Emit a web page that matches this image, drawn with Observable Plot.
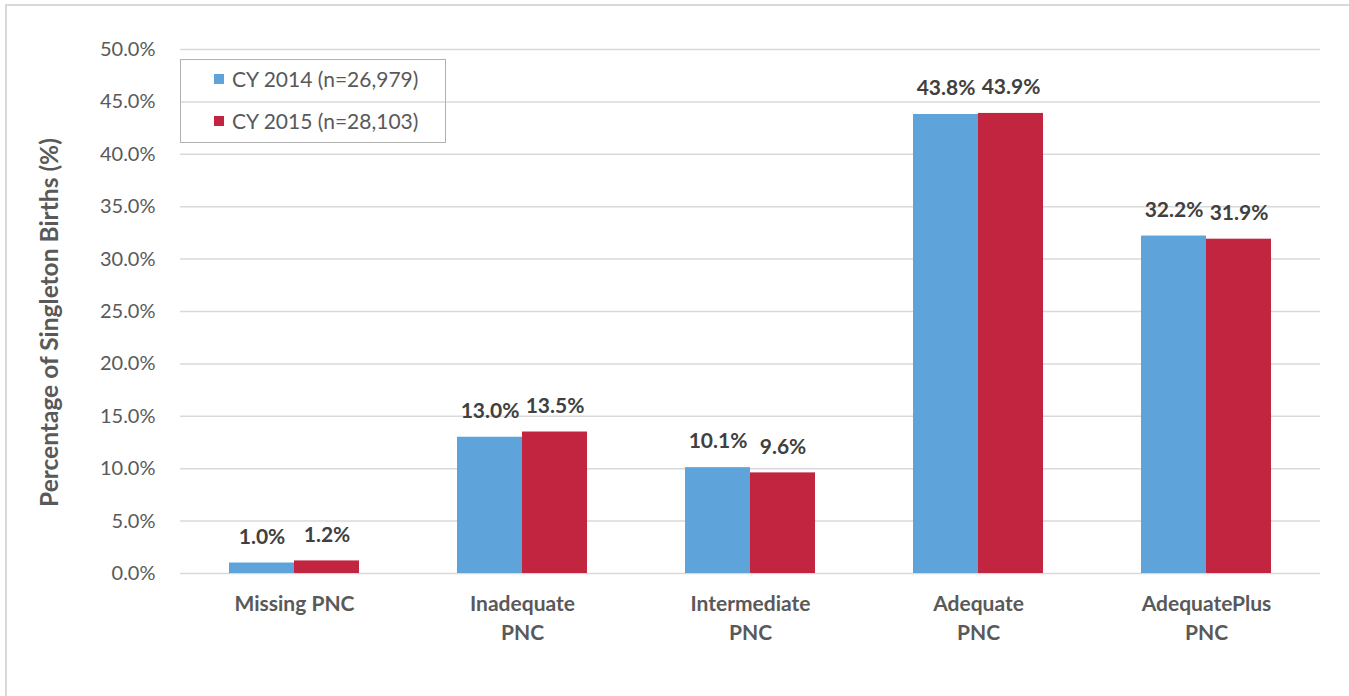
<!DOCTYPE html>
<html>
<head>
<meta charset="utf-8">
<script src="https://cdn.jsdelivr.net/npm/d3@7"></script>
<script src="https://cdn.jsdelivr.net/npm/@observablehq/plot@0.6"></script>
<style>
  html, body { margin: 0; padding: 0; background: #fff; }
  #wrap { position: relative; width: 1349px; height: 696px; overflow: hidden; font-family: Lato, "Open Sans", sans-serif; }
  #border { position: absolute; left: 5px; top: 4px; right: -4px; bottom: -4px; border-left: 2px solid #d9d9d9; border-top: 2px solid #d9d9d9; pointer-events: none; }
  #legend { position: absolute; left: 180px; top: 59px; width: 264px; height: 82px; border: 1.5px solid #b0b0b0; }
  .item { position: absolute; left: 33px; display: flex; align-items: center; font-size: 21px; color: #595959; }
  .sw { width: 10px; height: 10px; margin-right: 8px; }
</style>
</head>
<body>
<div id="wrap">
  <div id="chart"></div>
  <div id="border"></div>
  <div id="legend"></div>
</div>
<script>
const categories = ["Missing PNC", "Inadequate PNC", "Intermediate PNC", "Adequate PNC", "AdequatePlus PNC"];
const categoryLabels = ["Missing PNC", "Inadequate\nPNC", "Intermediate\nPNC", "Adequate\nPNC", "AdequatePlus\nPNC"];
const seriesNames = ["CY 2014 (n=26,979)", "CY 2015 (n=28,103)"];
const values2014 = [1.0, 13.0, 10.1, 43.8, 32.2];
const values2015 = [1.2, 13.5, 9.6, 43.9, 31.9];
const yTicks = [0, 5, 10, 15, 20, 25, 30, 35, 40, 45, 50];
const yTitle = "Percentage of Singleton Births (%)";
const colors = ["#5ea3d9", "#c1253f"];

const d2014 = categories.map((c, i) => ({category: c, value: values2014[i]}));
const d2015 = categories.map((c, i) => ({category: c, value: values2015[i]}));
const labelOf = new Map(categories.map((c, i) => [c, categoryLabels[i]]));
const fmt = v => v.toFixed(1) + "%";
const half = 65;

const chart = Plot.plot({
  width: 1349,
  height: 696,
  marginLeft: 180,
  marginRight: 29,
  marginTop: 49,
  marginBottom: 123,
  style: {fontFamily: "Lato, 'Open Sans', sans-serif", background: "transparent"},
  x: {domain: categories, paddingInner: 0.43, paddingOuter: 0.215, label: null},
  y: {domain: [0, 50], label: null},
  marks: [
    Plot.gridY(yTicks, {stroke: "#d9d9d9", strokeOpacity: 1, strokeWidth: 1.5}),
    Plot.barY(d2014, {x: "category", y: "value", fill: colors[0], insetRight: half}),
    Plot.barY(d2015, {x: "category", y: "value", fill: colors[1], insetLeft: half}),
    Plot.text(d2014, {x: "category", y: "value", text: d => fmt(d.value), dx: -half / 2, dy: -26, fontSize: 21, fontWeight: "bold", fill: "#404040"}),
    Plot.text(d2015, {x: "category", y: "value", text: d => fmt(d.value), dx: half / 2, dy: -26, fontSize: 21, fontWeight: "bold", fill: "#404040"}),
    Plot.axisY(yTicks, {tickSize: 0, tickPadding: 25, tickFormat: fmt, fontSize: 20, color: "#595959", label: null}),
    Plot.axisX({tickSize: 0, tickPadding: 17, tickFormat: d => labelOf.get(d), fontSize: 21, fontWeight: "bold", color: "#595959", lineHeight: 1.38, label: null}),
    Plot.text([yTitle], {frameAnchor: "left", textAnchor: "middle", dx: -130, dy: 11, rotate: -90, fontSize: 24.5, fontWeight: "bold", fill: "#595959"})
  ]
});
document.getElementById("chart").appendChild(chart);

const legend = document.getElementById("legend");
seriesNames.forEach((name, i) => {
  const item = document.createElement("div");
  item.className = "item";
  item.style.top = (i === 0 ? 6 : 48) + "px";
  const sw = document.createElement("span");
  sw.className = "sw";
  sw.style.background = colors[i];
  const t = document.createElement("span");
  t.textContent = name;
  item.appendChild(sw);
  item.appendChild(t);
  legend.appendChild(item);
});
</script>
</body>
</html>
